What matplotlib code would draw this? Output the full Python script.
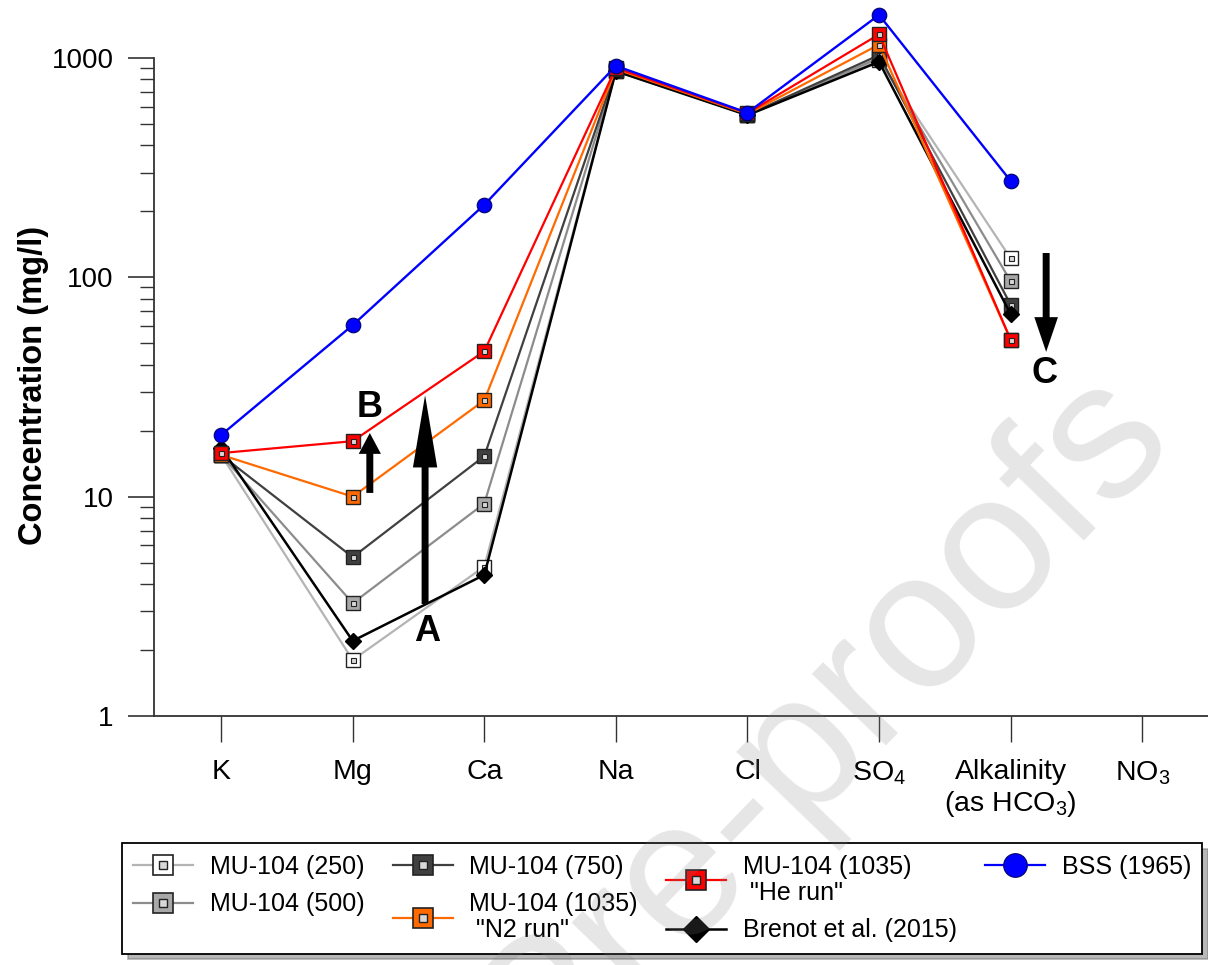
import numpy as np
import matplotlib
matplotlib.use('Agg')
import matplotlib.pyplot as plt
from matplotlib.lines import Line2D
from matplotlib.legend_handler import HandlerTuple
from matplotlib.ticker import LogLocator, NullFormatter

plt.rcParams['font.family'] = ['Liberation Sans', 'DejaVu Sans']
plt.rcParams['mathtext.fontset'] = 'custom'
plt.rcParams['mathtext.rm'] = 'Liberation Sans'
plt.rcParams['mathtext.it'] = 'Liberation Sans:italic'
plt.rcParams['mathtext.bf'] = 'Liberation Sans:bold'

# ions on the x axis
ions = ['K', 'Mg', 'Ca', 'Na', 'Cl', 'SO$_4$', 'Alkalinity\n(as HCO$_3$)', 'NO$_3$']

# concentrations (mg/l), NO3 not measured
mu250 = [15.5, 1.80, 4.8, 870, 550, 980, 122, np.nan]
mu500 = [15.5, 3.27, 9.3, 875, 550, 1000, 96, np.nan]
mu750 = [15.5, 5.3, 15.3, 880, 550, 1030, 75, np.nan]
mu1035_n2 = [15.5, 10.0, 27.5, 890, 555, 1150, 52, np.nan]
mu1035_he = [15.8, 17.9, 46, 900, 560, 1280, 52, np.nan]
brenot = [16.7, 2.2, 4.4, 870, 548, 960, 68, np.nan]
bss = [19.1, 60.5, 214, 920, 562, 1570, 275, np.nan]

labels = ['MU-104 (250)', 'MU-104 (500)', 'MU-104 (750)',
          'MU-104 (1035)\n "N2 run"', 'MU-104 (1035)\n "He run"',
          'Brenot et al. (2015)', 'BSS (1965)']

x = np.arange(len(ions))

fig = plt.figure(figsize=(12.08, 9.65), dpi=100)
ax = fig.add_axes([0.1275, 0.258, 0.8725, 0.682])

edge = '#222222'
inner_fc = '#d8d8d8'

def sq_series(vals, lc, fc, z, ms=9.5, ims=3.6):
    ax.plot(x, vals, color=lc, lw=1.6, marker='s', ms=ms, mfc=fc, mec=edge,
            mew=1.0, clip_on=False, zorder=z)
    ax.plot(x, vals, ls='none', marker='s', ms=ims, mfc=inner_fc, mec=edge,
            mew=0.8, clip_on=False, zorder=z + 0.1)

def sq_handle(lc, fc):
    outer = Line2D([], [], color=lc, lw=1.6, marker='s', ms=15, mfc=fc,
                   mec=edge, mew=1.2)
    inner = Line2D([], [], ls='none', marker='s', ms=6, mfc=inner_fc,
                   mec=edge, mew=1.0)
    return (outer, inner)

sq_series(mu250, '#b4b4b4', 'white', 3)
sq_series(mu500, '#8c8c8c', '#a8a8a8', 4)
sq_series(mu750, '#404040', '#404040', 5)
ax.plot(x, brenot, color='black', lw=1.8, marker='D', ms=8, mfc='black',
        mec='black', clip_on=False, zorder=6)
sq_series(mu1035_n2, '#ff6a00', '#ff6a00', 7)
sq_series(mu1035_he, '#ff0000', '#ff0000', 8)
ax.plot(x, bss, color='#0000ff', lw=1.7, marker='o', ms=10.5, mfc='#0000ff',
        mec='#000066', mew=0.8, clip_on=False, zorder=9)

ax.set_yscale('log')
ax.set_ylim(1, 1000)
ax.set_xlim(-0.51, 7.5)
ax.set_yticks([1, 10, 100, 1000])
ax.set_yticklabels(['1', '10', '100', '1000'])
ax.yaxis.set_minor_locator(LogLocator(base=10, subs=np.arange(2, 10)))
ax.yaxis.set_minor_formatter(NullFormatter())
ax.set_xticks(x)
ax.set_xticklabels(ions)

for s in ['top', 'right']:
    ax.spines[s].set_visible(False)
for s in ['left', 'bottom']:
    ax.spines[s].set_color('#333333')
    ax.spines[s].set_linewidth(1.3)

ax.tick_params(axis='y', which='major', direction='out', length=19, width=1.2,
               color='#333333', labelsize=20, pad=10)
ax.tick_params(axis='y', which='minor', direction='out', length=10, width=1.0,
               color='#333333')
ax.tick_params(axis='x', which='major', direction='out', length=19, width=1.0,
               color='#333333', labelsize=20.5, pad=12)

ax.set_ylabel('Concentration (mg/l)', fontsize=23.5, fontweight='bold')
ax.yaxis.set_label_coords(-0.1, 0.503)

# arrows A, B, C
arrow_kw = dict(color='black', lw=0, shrinkA=0, shrinkB=0)
ax.annotate('', xy=(1.55, 29), xytext=(1.55, 3.24),
            arrowprops=dict(arrowstyle='simple,head_length=5.2,head_width=1.75,tail_width=0.5',
                            mutation_scale=10, **arrow_kw), zorder=12)
ax.annotate('', xy=(1.13, 19.5), xytext=(1.13, 10.4),
            arrowprops=dict(arrowstyle='simple,head_length=1.5,head_width=1.6,tail_width=0.5',
                            mutation_scale=10, **arrow_kw), zorder=12)
ax.annotate('', xy=(6.27, 45.7), xytext=(6.27, 129),
            arrowprops=dict(arrowstyle='simple,head_length=2.5,head_width=1.7,tail_width=0.5',
                            mutation_scale=10, **arrow_kw), zorder=12)
ax.text(1.565, 2.42, 'A', fontsize=26, fontweight='bold', ha='center', va='center')
ax.text(1.125, 25.6, 'B', fontsize=26, fontweight='bold', ha='center', va='center')
ax.text(6.26, 36.5, 'C', fontsize=26, fontweight='bold', ha='center', va='center')

handles = [sq_handle('#b4b4b4', 'white'),
           sq_handle('#8c8c8c', '#a8a8a8'),
           sq_handle('#404040', '#404040'),
           sq_handle('#ff6a00', '#ff6a00'),
           sq_handle('#ff0000', '#ff0000'),
           Line2D([], [], color='black', lw=1.8, marker='D', ms=13, mfc='black', mec='black'),
           Line2D([], [], color='#0000ff', lw=1.6, marker='o', ms=17, mfc='#0000ff',
                  mec='#000066', mew=0.8)]

leg = fig.legend(handles, labels, ncol=4, loc='upper left',
                 bbox_to_anchor=(0.101, 0.126), fontsize=18,
                 handler_map={tuple: HandlerTuple(ndivide=1)},
                 frameon=True, fancybox=False, shadow={'ox': 4, 'oy': -4, 'color': '0.45'},
                 handlelength=2.4, handletextpad=0.65, columnspacing=1.15,
                 labelspacing=0.55, borderpad=0.45, borderaxespad=0)
leg.get_frame().set_edgecolor('black')
leg.get_frame().set_linewidth(1.3)
for t in leg.get_texts():
    t.set_linespacing(1.1)
leg._legend_handle_box.align = 'top'

# watermark
fig.text(0.68, 0.25, 'Pre-proofs', fontsize=140, rotation=46, color='#808080',
         alpha=0.2, ha='center', va='center', zorder=20)

fig.savefig('out.png', dpi=100)
